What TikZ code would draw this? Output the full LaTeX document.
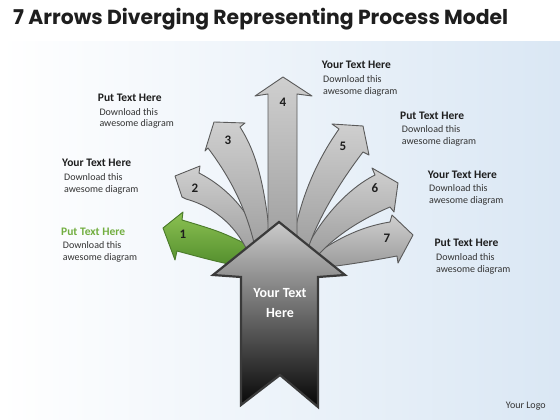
\documentclass[tikz,border=0pt]{standalone}
\usepackage{fontspec}
\usepackage{graphicx}
\setmainfont{Carlito}
\newfontfamily\titlefont{Poppins}
\definecolor{bgblue}{HTML}{DAE7F4}
\definecolor{arrtop}{HTML}{CFCFCF}
\definecolor{arrbot}{HTML}{9A9A9A}
\definecolor{arrline}{HTML}{5A5A5A}
\definecolor{grtop}{HTML}{8CC152}
\definecolor{grbot}{HTML}{4E8A2A}
\definecolor{grline}{HTML}{4A7A2A}
\definecolor{grtext}{HTML}{72AE40}
\definecolor{bigtop}{HTML}{CBCBCB}
\definecolor{bigmid}{HTML}{6A6A6A}
\definecolor{bigbot}{HTML}{050505}
\definecolor{bigline}{HTML}{3A3A3A}
\definecolor{txt}{HTML}{1E1E1E}
\definecolor{bodytxt}{HTML}{333333}
\tikzset{
  grayarrow/.style={draw=arrline, line width=0.9pt, line join=round, top color=arrtop, bottom color=arrbot},
  greenarrow/.style={draw=grline, line width=0.9pt, line join=round, top color=grtop, bottom color=grbot},
  bigarrow/.style={draw=bigline, line width=2.2pt, line join=miter, top color=bigtop, middle color=bigmid, bottom color=bigbot},
  numlbl/.style={font=\fontsize{13}{13}\selectfont\bfseries, text=txt, inner sep=0pt},
  headlbl/.style={anchor=base west, inner sep=0pt, font=\fontsize{11.5}{12}\selectfont\bfseries, text=txt},
  bodylbl/.style={anchor=base west, inner sep=0pt, font=\fontsize{10}{11}\selectfont, text=bodytxt},
  biglbl/.style={inner sep=0pt, align=center, font=\fontsize{14}{20}\selectfont\bfseries, text=white}
}
\begin{document}
\begin{tikzpicture}[x=1pt,y=-1pt]
\useasboundingbox (0,0) rectangle (560,420);
\fill[white] (0,0) rectangle (560,420);
\shade[left color=white, right color=bgblue] (0,42) rectangle (560,420);

% title
\node[anchor=base west, inner sep=0pt, text=txt] (title) at (13,25)
  {\resizebox{495pt}{!}{\titlefont\bfseries 7 Arrows Diverging Representing Process Model}};

% arrow 1 (green)
\path[greenarrow] (163,228) -- (183,212) -- (182,220) .. controls (222,232) .. (262,252)
  -- (258,270) .. controls (218,262) .. (177,251) -- (175,260) -- cycle;
% arrow 2
\path[grayarrow] (175,176) -- (200,166) -- (199,173) .. controls (232,190) and (256,220) .. (266,258)
  -- (252,262) .. controls (240,228) and (215,207) .. (186,199) -- (182,197) -- cycle;
% arrow 3
\path[grayarrow] (214,122) -- (245,123) -- (240,127) .. controls (258,155) and (266,190) .. (272,258)
  -- (258,262) .. controls (250,215) and (232,180) .. (208,148) -- (205,151) -- cycle;
% arrow 7
\path[grayarrow] (413,235) -- (398,263) -- (397,256) .. controls (365,262) and (340,266) .. (318,268)
  -- (310,258) .. controls (340,236) and (365,226) .. (390,222) -- (392,215) -- cycle;
% arrow 6
\path[grayarrow] (398,183) -- (394,212) -- (390,207) .. controls (355,222) and (330,240) .. (312,262)
  -- (300,262) .. controls (315,225) and (345,190) .. (375,175) -- (372,168) -- cycle;
% arrow 5
\path[grayarrow] (363,126) -- (369,155) -- (363,152) .. controls (340,182) and (313,225) .. (304,262)
  -- (290,262) .. controls (295,215) and (310,170) .. (339,129) -- (332,124) -- cycle;
% arrow 4
\path[grayarrow] (283,77) -- (312,96) -- (297,94) -- (297,262) -- (268,262) -- (268,94) -- (255,96) -- cycle;

% numbers
\node[numlbl] (n1) at (183,234) {1};
\node[numlbl] (n2) at (195,188) {2};
\node[numlbl] (n3) at (228,140) {3};
\node[numlbl] (n4) at (283,102) {4};
\node[numlbl] (n5) at (343,146) {5};
\node[numlbl] (n6) at (375,188) {6};
\node[numlbl] (n7) at (387,238) {7};

% big arrow
\path[bigarrow] (279,222) -- (345,275) -- (318,277) -- (318,407) -- (280,375) -- (241,405) -- (241,277) -- (213,275) -- cycle;
\node[biglbl] (bigtxt) at (280,303) {Your Text\\Here};

% labels
\node[headlbl] (h4) at (321.7,69) {Your Text Here};
\node[bodylbl] (b4a) at (323,82) {Download this};
\node[bodylbl] (b4b) at (323,94.5) {awesome diagram};

\node[headlbl] (h5) at (400,119.3) {Put Text Here};
\node[bodylbl] (b5a) at (401.7,132.7) {Download this};
\node[bodylbl] (b5b) at (401.7,144.5) {awesome diagram};

\node[headlbl] (h6) at (427.7,178.3) {Your Text Here};
\node[bodylbl] (b6a) at (429,191.7) {Download this};
\node[bodylbl] (b6b) at (429,203.5) {awesome diagram};

\node[headlbl] (h7) at (434.3,246.7) {Put Text Here};
\node[bodylbl] (b7a) at (436,260) {Download this};
\node[bodylbl] (b7b) at (436,272) {awesome diagram};

\node[headlbl] (h3) at (97.7,101.7) {Put Text Here};
\node[bodylbl] (b3a) at (99.3,115) {Download this};
\node[bodylbl] (b3b) at (99.3,127) {awesome diagram};

\node[headlbl] (h2) at (62,166.7) {Your Text Here};
\node[bodylbl] (b2a) at (64,180.7) {Download this};
\node[bodylbl] (b2b) at (64,192.5) {awesome diagram};

\node[headlbl, text=grtext] (h1) at (61,235) {Put Text Here};
\node[bodylbl] (b1a) at (62.7,248.3) {Download this};
\node[bodylbl] (b1b) at (62.7,260) {awesome diagram};

\node[bodylbl, anchor=base west] (logo) at (505.7,408) {Your Logo};
\end{tikzpicture}
\end{document}
